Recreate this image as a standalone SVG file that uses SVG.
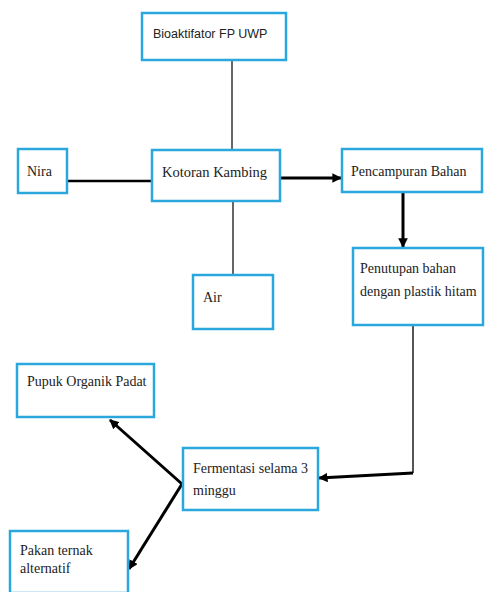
<svg xmlns="http://www.w3.org/2000/svg" width="487" height="592" viewBox="0 0 487 592">
<defs>
<style>
.box{fill:#fff;stroke:#2aa7dc;stroke-width:2.5}
.t{font-family:"Liberation Serif","Times New Roman",serif;font-size:14px;fill:#222}
.s{font-family:"Liberation Sans",Arial,sans-serif;font-size:12.5px;fill:#222}
.thin{fill:none;stroke:#333;stroke-width:1.5}
.thick{fill:none;stroke:#000;stroke-width:3}
</style>
<marker id="ah" viewBox="0 0 10 10" refX="9" refY="5" markerWidth="3.2" markerHeight="3.2" orient="auto" markerUnits="strokeWidth">
<path d="M0,0 L10,5 L0,10 Z" fill="#000"/>
</marker>
</defs>
<rect width="487" height="592" fill="#fff"/>
<g id="connectors">
<line class="thin" x1="232" y1="60" x2="232" y2="151"/>
<line class="thin" x1="233" y1="201" x2="233" y2="275"/>
<polyline class="thick" points="67,181 108,181 152,181" style="stroke-width:2.5"/>
<line class="thick" x1="281" y1="178" x2="341" y2="178" marker-end="url(#ah)"/>
<line class="thick" x1="403" y1="192" x2="403" y2="247" marker-end="url(#ah)"/>
<polyline fill="none" stroke="#555" stroke-width="2" points="413,326 413,473"/>
<line class="thick" x1="413" y1="473" x2="319" y2="478" marker-end="url(#ah)"/>
<line class="thick" x1="182" y1="484" x2="110" y2="420" marker-end="url(#ah)"/>
<line class="thick" x1="182" y1="484" x2="129" y2="569" marker-end="url(#ah)"/>
</g>
<g id="bioaktifator">
<rect class="box" x="142" y="13" width="144" height="47"/>
<text class="s" x="153" y="38">Bioaktifator FP UWP</text>
</g>
<g id="nira">
<rect class="box" x="18" y="149" width="49" height="44"/>
<text class="t" x="27" y="176">Nira</text>
</g>
<g id="kotoran">
<rect class="box" x="152" y="150" width="128" height="51"/>
<text class="t" x="162" y="177" style="font-size:14.5px">Kotoran Kambing</text>
</g>
<g id="pencampuran">
<rect class="box" x="342" y="149" width="140" height="43"/>
<text class="t" x="351" y="176">Pencampuran Bahan</text>
</g>
<g id="air">
<rect class="box" x="193" y="275" width="80" height="54"/>
<text class="t" x="203" y="302">Air</text>
</g>
<g id="penutupan">
<rect class="box" x="353" y="248" width="130" height="77"/>
<text class="t" x="360" y="273">Penutupan bahan</text>
<text class="t" x="360" y="296">dengan plastik hitam</text>
</g>
<g id="pupuk">
<rect class="box" x="17" y="364" width="137" height="53"/>
<text class="t" x="27" y="386">Pupuk Organik Padat</text>
</g>
<g id="fermentasi">
<rect class="box" x="183" y="448" width="135" height="62"/>
<text class="t" x="193" y="473">Fermentasi selama 3</text>
<text class="t" x="193" y="495">minggu</text>
</g>
<g id="pakan">
<rect class="box" x="10" y="531" width="118" height="62"/>
<text class="t" x="20" y="555">Pakan ternak</text>
<text class="t" x="20" y="573">alternatif</text>
</g>
</svg>
